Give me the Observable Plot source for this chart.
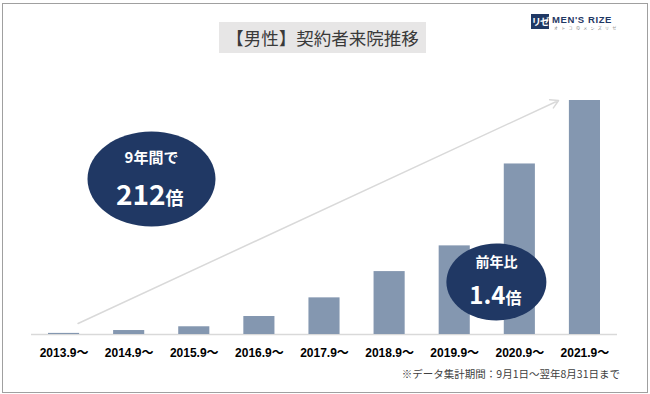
<!DOCTYPE html>
<html><head><meta charset="utf-8">
<script src="https://cdn.jsdelivr.net/npm/d3@7"></script>
<script src="https://cdn.jsdelivr.net/npm/@observablehq/plot@0.6"></script>
<style>
body{margin:0;background:#fff;}
#wrap{position:relative;width:650px;height:394px;overflow:hidden;font-family:"Noto Sans CJK JP","Noto Sans",sans-serif;background:#fff;}
#frame{position:absolute;left:2px;top:3px;width:646px;height:390px;border:1.5px solid #a0a0a0;box-sizing:border-box;pointer-events:none;}
#chart{position:absolute;left:0;top:0;}
#title{position:absolute;left:219px;top:22px;width:207px;height:31px;background:#e7e6e6;color:#3a3a3a;font-size:17.5px;line-height:31px;text-align:center;white-space:nowrap;}
#logo{position:absolute;left:531px;top:14px;height:16px;}
#logo .sq{position:absolute;left:0;top:0;width:18px;height:15px;background:#1f3864;color:#fff;font-size:9.5px;line-height:15px;text-align:center;font-weight:bold;letter-spacing:-1px;}
#logo .nm{position:absolute;left:21px;top:0px;font-family:"Liberation Sans",Arial,sans-serif;font-weight:bold;font-size:9.5px;letter-spacing:0.6px;color:#1f3864;white-space:nowrap;}
#logo .sub{position:absolute;left:23px;top:11px;font-size:4px;letter-spacing:3.3px;color:#808080;white-space:nowrap;}
#note{position:absolute;right:30px;top:366px;font-size:10.5px;color:#404040;white-space:nowrap;}
</style></head>
<body>
<div id="wrap">
  <div id="chart"></div>
  <div id="title">【男性】契約者来院推移</div>
  <div id="logo"><div class="sq">リゼ</div><div class="nm">MEN'S RIZE</div><div class="sub">オトコのメンズリゼ</div></div>
  <div id="note">※データ集計期間：9月1日～翌年8月31日まで</div>
  <div id="frame"></div>
</div>
<script>
// data
const categories = ["2013.9～","2014.9～","2015.9～","2016.9～","2017.9～","2018.9～","2019.9～","2020.9～","2021.9～"];
const values = [1, 3.6, 7, 16.3, 33.2, 57, 80.3, 154.5, 212];

// annotations
const bubbleX = [1.343, 6.64];
const bubbleY = [140.9, 47.6];
const bubbleR = [64, 50];
const bubbleAspect = [0.742, 0.77];
const bubbleHead = ["9年間で", "前年比"];
const bubbleNum = ["212", "1.4"];
const bubbleUnit = ["倍", "倍"];
const arrowFrom = {x: 0.215, y: 10};
const arrowTo = {x: 7.595, y: 212};

const data = categories.map((c, i) => ({i, label: c, value: values[i]}));
const bubbles = bubbleX.map((x, k) => ({x, y: bubbleY[k], head: bubbleHead[k], num: bubbleNum[k], unit: bubbleUnit[k]}));

function ellipseSymbol(aspect) {
  return {
    draw(ctx, size) {
      const rx = Math.sqrt(size / Math.PI), ry = rx * aspect, k = 0.5523;
      ctx.moveTo(rx, 0);
      ctx.bezierCurveTo(rx, ry * k, rx * k, ry, 0, ry);
      ctx.bezierCurveTo(-rx * k, ry, -rx, ry * k, -rx, 0);
      ctx.bezierCurveTo(-rx, -ry * k, -rx * k, -ry, 0, -ry);
      ctx.bezierCurveTo(rx * k, -ry, rx, -ry * k, rx, 0);
      ctx.closePath();
    }
  };
}

const cjk = "'Noto Sans CJK JP', sans-serif";
const b1 = [bubbles[0]], b2 = [bubbles[1]];

const chart = Plot.plot({
  width: 650, height: 394,
  marginTop: 100, marginBottom: 60, marginLeft: 31, marginRight: 33,
  x: {domain: [-0.5, 8.5], axis: null},
  y: {domain: [0, 212], axis: null},
  style: {background: "transparent", fontFamily: cjk},
  marks: [
    Plot.ruleY([0], {stroke: "#d9d9d9", strokeWidth: 1.5}),
    Plot.rectY(data, {x1: d => d.i - 0.5, x2: d => d.i + 0.5, y: "value", insetLeft: 17, insetRight: 17, fill: "#8497b0"}),
    Plot.text(data, {x: "i", y: 0, text: "label", dy: 19, fontWeight: "bold", fontSize: 12, fill: "#000", fontFamily: "'Liberation Sans', 'Noto Sans CJK JP', sans-serif"}),
    Plot.arrow([{}], {x1: () => arrowFrom.x, y1: () => arrowFrom.y, x2: () => arrowTo.x, y2: () => arrowTo.y, stroke: "#d9d9d9", strokeWidth: 1.5, headLength: 9, bend: 0}),
    Plot.dot(b1, {x: "x", y: "y", r: bubbleR[0], symbol: ellipseSymbol(bubbleAspect[0]), fill: "#203864", stroke: null}),
    Plot.dot(b2, {x: "x", y: "y", r: bubbleR[1], symbol: ellipseSymbol(bubbleAspect[1]), fill: "#203864", stroke: null}),
    Plot.text(b1, {x: "x", y: "y", text: "head", dy: -20.5, fill: "#fff", fontWeight: "bold", fontSize: 15}),
    Plot.text(b1, {x: "x", y: "y", text: "num", dy: 17.5, dx: 14, textAnchor: "end", fill: "#fff", fontWeight: "bold", fontSize: 28}),
    Plot.text(b1, {x: "x", y: "y", text: "unit", dy: 20, dx: 14, textAnchor: "start", fill: "#fff", fontWeight: "bold", fontSize: 18}),
    Plot.text(b2, {x: "x", y: "y", text: "head", dy: -19.5, fill: "#fff", fontWeight: "bold", fontSize: 14}),
    Plot.text(b2, {x: "x", y: "y", text: "num", dy: 14.5, dx: 9, textAnchor: "end", fill: "#fff", fontWeight: "bold", fontSize: 24}),
    Plot.text(b2, {x: "x", y: "y", text: "unit", dy: 16.5, dx: 9, textAnchor: "start", fill: "#fff", fontWeight: "bold", fontSize: 16})
  ]
});
document.getElementById("chart").appendChild(chart);
</script>
</body></html>
